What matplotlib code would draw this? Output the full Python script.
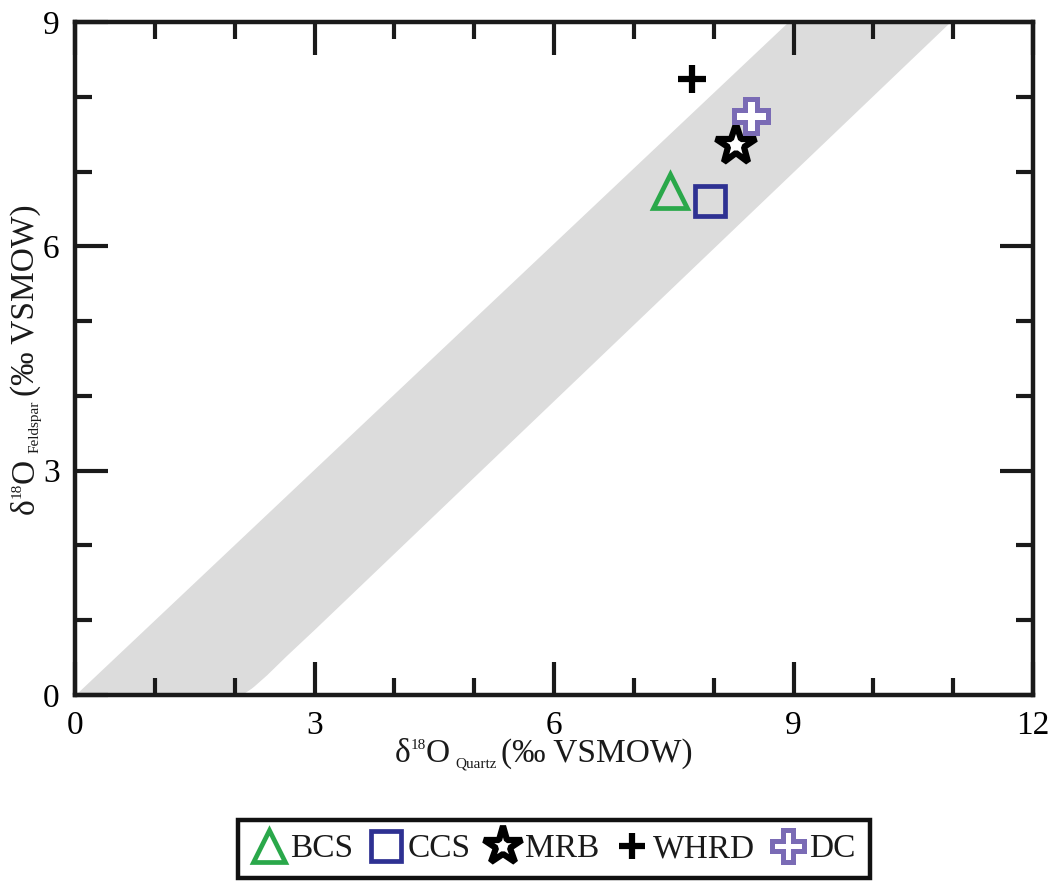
import matplotlib
matplotlib.use("Agg")
import matplotlib.pyplot as plt
from matplotlib.transforms import IdentityTransform
import numpy as np

plt.rcParams['font.family'] = ['Liberation Serif', 'DejaVu Serif']

# Sample groups: quartz vs feldspar delta-18O (per mil VSMOW)
groups = ["BCS", "CCS", "MRB", "WHRD", "DC"]
d18o_quartz = [7.45, 7.95, 8.28, 7.73, 8.47]
d18o_feldspar = [6.74, 6.61, 7.35, 8.24, 7.74]

# Equilibrium field boundaries (quartz, feldspar)
upper_q = [0.0, 8.93]
upper_f = [0.0, 9.0]
lower_q = [2.08, 2.22, 2.40, 2.65, 3.00, 10.96]
lower_f = [0.00, 0.10, 0.27, 0.53, 0.88, 9.00]

styles = {
    "BCS":  dict(marker='^', ms=25, mfc='none', mec='#2aa84a', mew=3.4),
    "CCS":  dict(marker='s', ms=22, mfc='none', mec='#2e3192', mew=3.4),
    "MRB":  dict(marker='*', ms=30, mfc='white', mec='black', mew=4.5),
    "WHRD": dict(marker='+', ms=20, mec='black', mew=4.5),
    "DC":   dict(marker='P', ms=24, mfc='white', mec='#7a6bb5', mew=3.6),
}

W, H = 1056, 882
fig = plt.figure(figsize=(W / 100, H / 100), dpi=100)
ax = fig.add_axes([75 / W, 1 - 695 / H, (1033 - 75) / W, (695 - 22) / H])

# Shaded band between the two boundaries
yy = np.linspace(0, 9, 300)
xu = np.interp(yy, upper_f, upper_q)
xl = np.interp(yy, lower_f, lower_q)
ax.fill_betweenx(yy, xu, xl, color='#dcdcdc', lw=0, zorder=1)

handles = []
for g, xq, yf in zip(groups, d18o_quartz, d18o_feldspar):
    h, = ax.plot([xq], [yf], ls='none', label=g, zorder=3, **styles[g])
    handles.append(h)

ax.set_xlim(0, 12)
ax.set_ylim(0, 9)
ax.set_xticks([0, 3, 6, 9, 12])
ax.set_yticks([0, 3, 6, 9])
ax.set_xticks(np.arange(0, 13, 1), minor=True)
ax.set_yticks(np.arange(0, 10, 1), minor=True)
ax.tick_params(which='both', direction='in', top=True, right=True,
               width=3, color='#1a1a1a', labelsize=24)
ax.tick_params(which='major', length=24)
ax.tick_params(which='minor', length=12)
ax.tick_params(axis='x', pad=11)
ax.tick_params(axis='y', pad=11)
for s in ax.spines.values():
    s.set_linewidth(3.2)
    s.set_color('#1a1a1a')


def rich_label(pieces, center, baseline, vertical=False):
    """Lay out text pieces (text, size, rise_px, gap_px) along one line, in pixels."""
    r = fig.canvas.get_renderer()
    widths = []
    for txt, fs, rise, gap in pieces:
        t = fig.text(0, 0, txt, fontsize=fs)
        widths.append(t.get_window_extent(r).width)
        t.remove()
    total = sum(widths) + sum(p[3] for p in pieces)
    pos = center - total / 2
    for (txt, fs, rise, gap), w in zip(pieces, widths):
        pos += gap
        if vertical:
            fig.text(baseline - rise, pos, txt, fontsize=fs, rotation=90,
                     rotation_mode='anchor', ha='left', va='baseline',
                     transform=IdentityTransform(), color='#1a1a1a')
        else:
            fig.text(pos, baseline + rise, txt, fontsize=fs,
                     ha='left', va='baseline',
                     transform=IdentityTransform(), color='#1a1a1a')
        pos += w


xlabel_parts = [("δ", 24, 0, 0), ("18", 11, 13, 0), ("O", 24, 0, 0),
                ("Quartz", 11, -5, 5), ("(‰ VSMOW)", 24, 0, 5)]
ylabel_parts = [("δ", 24, 0, 0), ("18", 11, 13, 0), ("O", 24, 0, 0),
                ("Feldspar", 11, -5, 5), ("(‰ VSMOW)", 24, 0, 5)]
rich_label(xlabel_parts, center=544, baseline=H - 762)
rich_label(ylabel_parts, center=H - 359, baseline=34, vertical=True)

leg = fig.legend(handles=handles, loc='center', bbox_to_anchor=(553.5 / W, 1 - 849 / H),
                 ncol=5, fontsize=24, frameon=True, fancybox=False, framealpha=1,
                 handletextpad=0.12, columnspacing=0.45, borderpad=0.42,
                 handlelength=1.05, markerscale=0.95, borderaxespad=0)
leg.get_frame().set_edgecolor('#111111')
leg.get_frame().set_linewidth(3.2)
for t in leg.get_texts():
    t.set_color('#1a1a1a')

fig.savefig('out.png', dpi=100)
